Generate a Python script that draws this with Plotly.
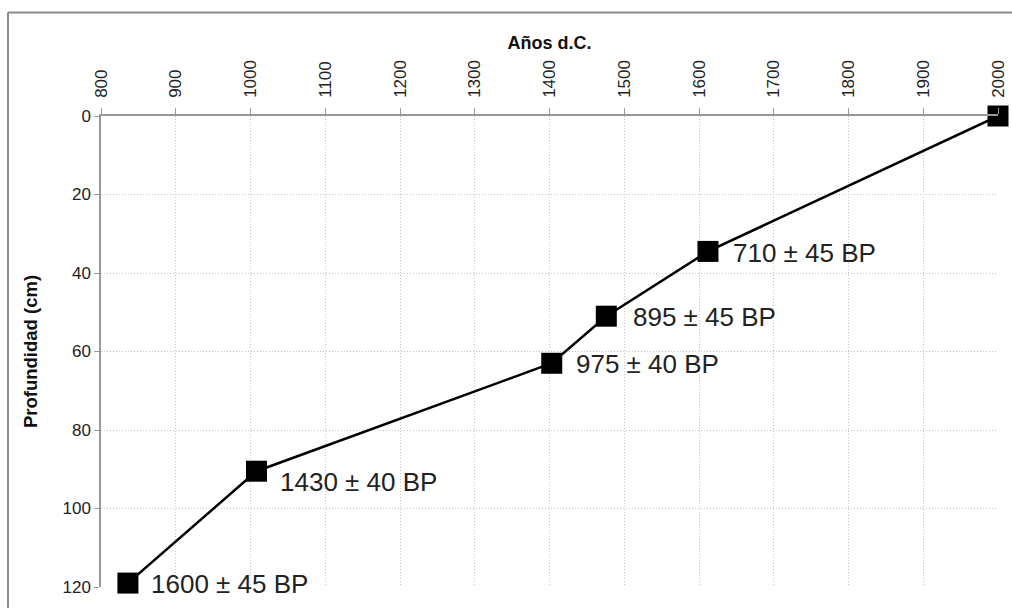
import plotly.graph_objects as go

# ---- data ----
years = [836, 1008, 1403, 1476, 1612, 2000]          # Años d.C.
depths = [119, 90.5, 63, 51, 34.5, 0]                 # Profundidad (cm)
dates_bp = ["1600 ± 45 BP", "1430 ± 40 BP", "975 ± 40 BP",
            "895 ± 45 BP", "710 ± 45 BP", ""]
x_ticks = list(range(800, 2001, 100))
y_ticks = list(range(0, 121, 20))

FONT = "Liberation Sans, Arial, sans-serif"

fig = go.Figure()
fig.add_trace(go.Scatter(
    x=years, y=depths, mode="lines+markers",
    line=dict(color="black", width=2.5),
    marker=dict(symbol="square", size=21, color="black",
                line=dict(width=0)),
    cliponaxis=False, showlegend=False, hoverinfo="skip",
))

# label offsets (pixels) relative to each point
label_dx = [21, 22, 22, 25, 23, 0]
label_dy = [-1, -11, -1, -1, -2, 0]
for x, y, t, dx, dy in zip(years, depths, dates_bp, label_dx, label_dy):
    if not t:
        continue
    fig.add_annotation(x=x, y=y, xref="x", yref="y", text=t,
                       showarrow=False, xanchor="left", yanchor="middle",
                       xshift=dx, yshift=dy,
                       font=dict(family=FONT, size=26, color="#222222"))

# outer frame (top & left visible)
fig.add_shape(type="line", xref="paper", yref="paper",
              x0=-0.1037, x1=1.1, y0=1.2199, y1=1.2199,
              line=dict(color="#8a8a8a", width=2))
fig.add_shape(type="line", xref="paper", yref="paper",
              x0=-0.1037, x1=-0.1037, y0=1.2199, y1=-0.2,
              line=dict(color="#8a8a8a", width=2))

GRID = dict(showgrid=True, gridcolor="#c4c4c4", griddash="1px,2px", gridwidth=1)

fig.update_layout(
    width=1012, height=608,
    margin=dict(l=101, r=14, t=116, b=21, autoexpand=False),
    paper_bgcolor="white", plot_bgcolor="white",
    font=dict(family=FONT, color="#222222"),
    xaxis=dict(
        side="top", range=[800, 2000], tickvals=x_ticks,
        ticktext=[str(v) for v in x_ticks], tickangle=-90,
        tickfont=dict(size=17, color="#222222"),
        ticks="outside", ticklen=6, tickcolor="#999999",
        ticklabelstandoff=7,
        showline=True, linecolor="#999999", linewidth=1.5,
        zeroline=False, automargin=False,
        title=dict(text="<b>Años d.C.</b>", font=dict(size=18, color="#111111"),
                   standoff=6),
        **GRID,
    ),
    yaxis=dict(
        range=[120, 0], tickvals=y_ticks,
        ticktext=[str(v) for v in y_ticks],
        tickfont=dict(size=17, color="#222222"),
        ticks="outside", ticklen=5, tickcolor="#999999",
        showline=True, linecolor="#999999", linewidth=1.5,
        zeroline=False, automargin=False,
        title=dict(text="<b>Profundidad (cm)</b>",
                   font=dict(size=18.5, color="#111111"), standoff=20),
        **GRID,
    ),
)

fig.write_html(
    "out.html",
    config={"displayModeBar": False},
    post_script="document.body.style.margin='0';"
                "document.body.style.overflow='hidden';",
)
